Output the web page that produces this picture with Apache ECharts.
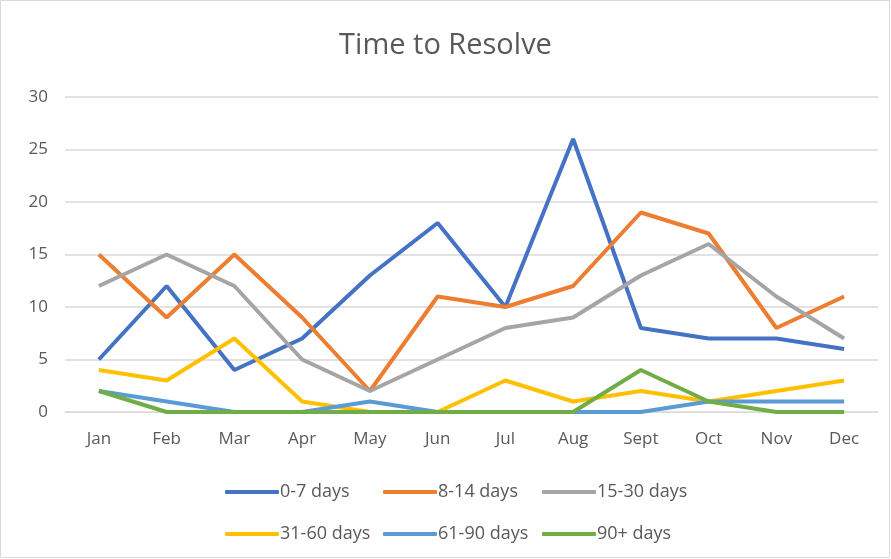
<!DOCTYPE html>
<html>
<head>
<meta charset="utf-8">
<script src="https://cdn.jsdelivr.net/npm/echarts@6/dist/echarts.min.js"></script>
<style>
  html, body { margin: 0; padding: 0; background: #fff; }
  #chart { width: 891px; height: 559px; }
</style>
</head>
<body>
<div id="chart"></div>
<script>
const months = ['Jan', 'Feb', 'Mar', 'Apr', 'May', 'Jun', 'Jul', 'Aug', 'Sept', 'Oct', 'Nov', 'Dec']
const seriesNames = ['0-7 days', '8-14 days', '15-30 days', '31-60 days', '61-90 days', '90+ days']
const days0to7 = [5, 12, 4, 7, 13, 18, 10, 26, 8, 7, 7, 6]
const days8to14 = [15, 9, 15, 9, 2, 11, 10, 12, 19, 17, 8, 11]
const days15to30 = [12, 15, 12, 5, 2, 5, 8, 9, 13, 16, 11, 7]
const days31to60 = [4, 3, 7, 1, 0, 0, 3, 1, 2, 1, 2, 3]
const days61to90 = [2, 1, 0, 0, 1, 0, 0, 0, 0, 1, 1, 1]
const days90plus = [2, 0, 0, 0, 0, 0, 0, 0, 4, 1, 0, 0]

const colors = ['#4472C4', '#ED7D31', '#A5A5A5', '#FFC000', '#5B9BD5', '#70AD47']
const font = 'Open Sans'
const textColor = '#595959'

function line(name, data, color) {
  return {
    name: name,
    type: 'line',
    data: data,
    symbol: 'none',
    lineStyle: { width: 4, color: color },
    itemStyle: { color: color },
  }
}

// one legend per item so each row has fixed columns
const legendLefts = [220, 378, 537]
const legendTops = [478, 520]
const legends = seriesNames.map((name, i) => ({
  left: legendLefts[i % 3],
  top: legendTops[Math.floor(i / 3)],
  data: [name],
  icon: 'roundRect',
  itemWidth: 54,
  itemHeight: 4,
  textStyle: { color: textColor, fontFamily: font, fontSize: 18, padding: [0, 0, 0, -4] },
}))

let option = {
  animation: false,
  title: {
    text: 'Time to Resolve',
    left: 'center',
    top: 26,
    textStyle: { color: textColor, fontFamily: font, fontSize: 29, fontWeight: 'normal' },
  },
  graphic: [{
    type: 'rect',
    shape: { x: 0.5, y: 0.5, width: 889, height: 557 },
    style: { fill: 'none', stroke: '#d9d9d9', lineWidth: 1 },
  }],
  grid: { left: 65, right: 13, top: 97, bottom: 147 },
  legend: legends,
  xAxis: {
    type: 'category',
    data: months,
    axisLine: { lineStyle: { color: '#d9d9d9' } },
    axisTick: { show: false },
    axisLabel: { color: textColor, fontFamily: font, fontSize: 17, margin: 19 },
  },
  yAxis: {
    type: 'value',
    min: 0,
    max: 30,
    interval: 5,
    axisLine: { show: false },
    axisTick: { show: false },
    splitLine: { lineStyle: { color: '#d9d9d9', width: 1.5 } },
    axisLabel: { color: textColor, fontFamily: font, fontSize: 17, margin: 17 },
  },
  series: [
    line(seriesNames[0], days0to7, colors[0]),
    line(seriesNames[1], days8to14, colors[1]),
    line(seriesNames[2], days15to30, colors[2]),
    line(seriesNames[3], days31to60, colors[3]),
    line(seriesNames[4], days61to90, colors[4]),
    line(seriesNames[5], days90plus, colors[5]),
  ]
}

var myChart = echarts.init(document.getElementById('chart'))
myChart.setOption(option)
</script>
</body>
</html>
